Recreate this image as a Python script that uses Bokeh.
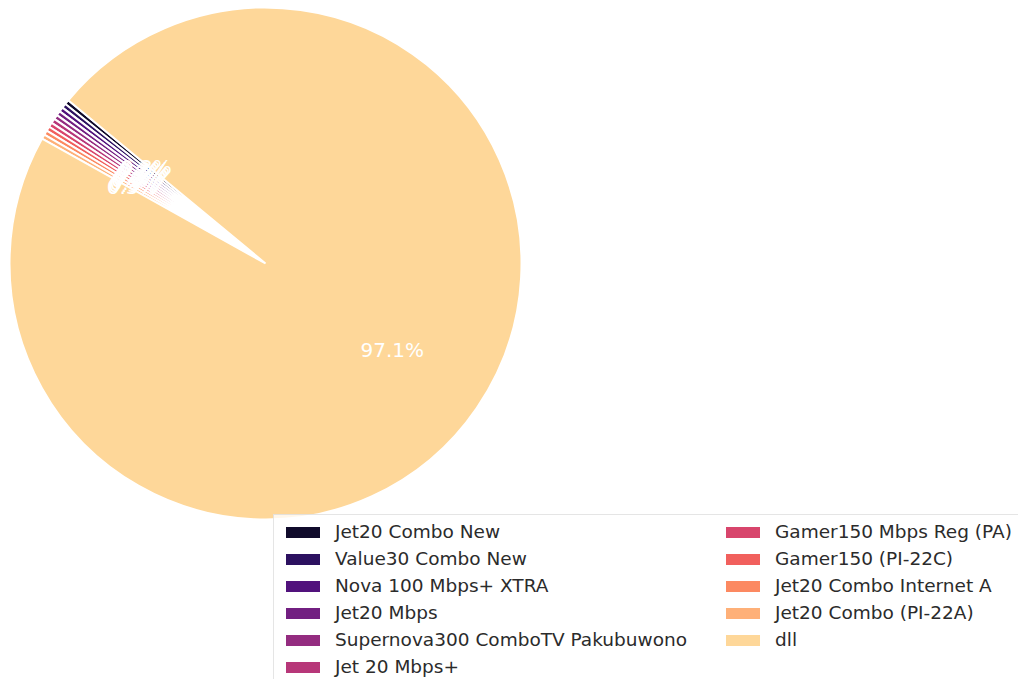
import numpy as np
from bokeh.plotting import figure
from bokeh.models import ColumnDataSource, Range1d, Legend, LegendItem
from bokeh.core.properties import value
from bokeh.embed import file_html
from bokeh.resources import INLINE

categories = ["Jet20 Combo New", "Value30 Combo New", "Nova 100 Mbps+ XTRA", "Jet20 Mbps",
              "Supernova300 ComboTV Pakubuwono", "Jet 20 Mbps+", "Gamer150 Mbps Reg (PA)",
              "Gamer150 (PI-22C)", "Jet20 Combo Internet A", "Jet20 Combo (PI-22A)", "dll"]
counts = [1, 1, 1, 1, 1, 1, 1, 1, 1, 1, 335]
colors = ["#100b2b", "#2c1160", "#51127c", "#721f81", "#942c80", "#b73779",
          "#d8456c", "#f1605d", "#fc8961", "#feb078", "#fed799"]

W, H = 1018, 679
CX, CY, R = 265, H - 263, 256
START = np.deg2rad(140.4)

vals = np.array(counts, dtype=float)
frac = vals / vals.sum()
ends = START + np.cumsum(frac) * 2 * np.pi
starts = ends - frac * 2 * np.pi
mids = (starts + ends) / 2
labels = ["%.1f%%" % (f * 100) for f in frac]

src = ColumnDataSource(dict(cat=categories, start=starts, end=ends, color=colors,
                            x=[CX] * len(categories), y=[CY] * len(categories)))
lab = ColumnDataSource(dict(x=CX + 0.6 * R * np.cos(mids), y=CY + 0.6 * R * np.sin(mids), t=labels))

p = figure(width=W, height=H, output_backend="svg", toolbar_location=None,
           x_range=Range1d(0, W), y_range=Range1d(0, H), min_border=0)
p.axis.visible = False
p.grid.visible = False
p.outline_line_color = None
p.background_fill_color = "white"

r = p.wedge(x="x", y="y", radius=R, start_angle="start", end_angle="end",
            fill_color="color", line_color="white", line_width=2, source=src)
p.text(x="x", y="y", text="t", source=lab, text_color="white", text_font=value("DejaVu Sans"),
       text_font_size="20px", text_align="center", text_baseline="middle")

items = [LegendItem(label=c, renderers=[r], index=i) for i, c in enumerate(categories)]
leg = Legend(items=items, ncols=2, location=(273, -5),
             label_text_font="DejaVu Sans", label_text_font_size="18.5px", label_text_color="#2b2b2b",
             glyph_width=45, glyph_height=16, label_standoff=10, label_height=20, spacing=6,
             padding=6, margin=0, label_width=379,
             border_line_color="#cccccc", border_line_width=1, background_fill_alpha=0.8)
p.add_layout(leg)

open("out.html", "w").write(file_html(p, INLINE))
